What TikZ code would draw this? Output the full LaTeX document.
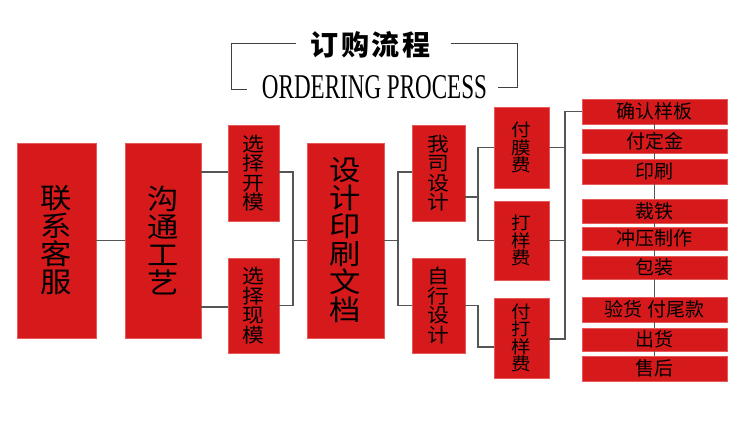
\documentclass[tikz,border=0pt]{standalone}
\usepackage{fontspec}
\setmainfont{Liberation Serif}
\newfontfamily\cjk{Noto Sans CJK SC}
\newfontfamily\cjkw[FakeStretch=1.12]{Noto Sans CJK SC}
\definecolor{boxred}{RGB}{214,26,28}
\definecolor{boxedge}{RGB}{232,90,90}
\definecolor{linegray}{RGB}{85,85,85}
\tikzset{
  rbox/.style={fill=boxred, draw=boxedge, line width=0.6pt, inner sep=0pt, align=center, text=black},
  bigbox/.style={rbox, font=\cjkw\fontsize{28}{28}\selectfont},
  midbox/.style={rbox, font=\cjkw\fontsize{19.5}{19.5}\selectfont},
  smallbox/.style={rbox, font=\cjkw\fontsize{17.5}{17.5}\selectfont},
  rowbox/.style={rbox, minimum width=145pt, font=\cjk\fontsize{19}{20}\selectfont},
  conn/.style={draw=linegray, line width=1.3pt},
  brk/.style={draw=black!75, line width=0.8pt}
}
\begin{document}
\begin{tikzpicture}[x=1pt,y=-1pt]
\useasboundingbox (0,0) rectangle (750,421);
\fill[white] (0,0) rectangle (750,421);
% title
\node[font=\cjk\bfseries\fontsize{28}{28}\selectfont, inner sep=0pt] (title) at (370.5,45) {订\kern2.5pt 购\kern2.5pt 流\kern2.5pt 程};
\node[inner sep=0pt] (sub) at (374.5,87) {\resizebox{225pt}{23pt}{ORDERING PROCESS}};
\coordinate (bl1) at (296,43);
\coordinate (bl2) at (231,89);
\coordinate (bl3) at (247,89);
\coordinate (br1) at (451,43);
\coordinate (br2) at (517,87);
\coordinate (br3) at (498,87);
\draw[brk] (bl1) -| (bl2) -- (bl3);
\draw[brk] (br1) -| (br2) -- (br3);
% main boxes
\node[bigbox, minimum width=79pt, minimum height=195pt] (lxkf) at (56.5,240.5) {联\\系\\客\\服};
\node[bigbox, minimum width=76pt, minimum height=195pt] (gtgy) at (163,240.5) {沟\\通\\工\\艺};
\node[midbox, minimum width=51pt, minimum height=96pt] (xzkm) at (253.5,173) {选\\择\\开\\模};
\node[midbox, minimum width=51pt, minimum height=95pt] (xzxm) at (253.5,305.5) {选\\择\\现\\模};
\node[bigbox, minimum width=77pt, minimum height=195pt] (sjys) at (345.5,240.5) {设\\计\\印\\刷\\文\\档};
\node[midbox, minimum width=53pt, minimum height=96pt] (wssj) at (438.5,173) {我\\司\\设\\计};
\node[midbox, minimum width=53pt, minimum height=95pt] (zxsj) at (438.5,305.5) {自\\行\\设\\计};
\node[smallbox, minimum width=55pt, minimum height=81pt] (fmf) at (521.5,147.5) {付\\膜\\费};
\node[smallbox, minimum width=55pt, minimum height=79pt] (dyf) at (521.5,240.5) {打\\样\\费};
\node[smallbox, minimum width=55pt, minimum height=80pt] (ddyf) at (521.5,338) {付\\打\\样\\费};
% right column
\node[rowbox, minimum height=25pt] (r1) at (654.5,111.5) {\raisebox{-3pt}{确认样板}};
\node[rowbox, minimum height=24pt] (r2) at (654.5,141) {\raisebox{-3pt}{付定金}};
\node[rowbox, minimum height=25pt] (r3) at (654.5,171.5) {\raisebox{-3pt}{印刷}};
\node[rowbox, minimum height=24pt] (r4) at (654.5,211) {\raisebox{-3pt}{裁铁}};
\node[rowbox, minimum height=23pt] (r5) at (654.5,238.5) {\raisebox{-3pt}{冲压制作}};
\node[rowbox, minimum height=23pt] (r6) at (654.5,267.5) {\raisebox{-3pt}{包装}};
\node[rowbox, minimum height=25pt] (r7) at (654.5,309.5) {\raisebox{-3pt}{验货 付尾款}};
\node[rowbox, minimum height=23pt] (r8) at (654.5,339.5) {\raisebox{-3pt}{出货}};
\node[rowbox, minimum height=25pt] (r9) at (654.5,368.5) {\raisebox{-3pt}{售后}};
% connectors (right column chain)
\draw[conn] (r1.south) -- (r2.north);
\draw[conn] (r2.south) -- (r3.north);
\draw[conn] (r3.south) -- (r4.north);
\draw[conn] (r4.south) -- (r5.north);
\draw[conn] (r5.south) -- (r6.north);
\draw[conn] (r6.south) -- (r7.north);
\draw[conn] (r7.south) -- (r8.north);
\draw[conn] (r8.south) -- (r9.north);
\coordinate (j1) at (293,240.5);
\coordinate (j2) at (398,240.5);
\coordinate (j3) at (478,197);
\coordinate (j4) at (478,347);
\coordinate (j5) at (565,111.5);
\draw[conn] (lxkf.east) -- (gtgy.west);
\draw[conn] ([yshift=1pt]xzkm.west) -- ([yshift=1pt]xzkm.west -| gtgy.east);
\draw[conn] ([yshift=-1.5pt]xzxm.west) -- ([yshift=-1.5pt]xzxm.west -| gtgy.east);
\draw[conn] ([yshift=1pt]xzkm.east) -| (j1) |- (xzxm.east);
\draw[conn] (j1) -- (sjys.west);
\draw[conn] (sjys.east) -- (j2);
\draw[conn] ([yshift=1pt]wssj.west) -| (j2) |- (zxsj.west);
\draw[conn] (j3) -- (j3 -| wssj.east);
\draw[conn] (fmf.west) -| (j3) |- (dyf.west);
\draw[conn] (zxsj.east) -| (j4) -- (j4 -| ddyf.west);
\draw[conn] ([yshift=-1pt]ddyf.east) -| (j5) -- (r1.west);
\draw[conn] (fmf.east) -- (fmf.east -| j5);
\draw[conn] (dyf.east) -- (dyf.east -| j5);
\end{tikzpicture}
\end{document}
